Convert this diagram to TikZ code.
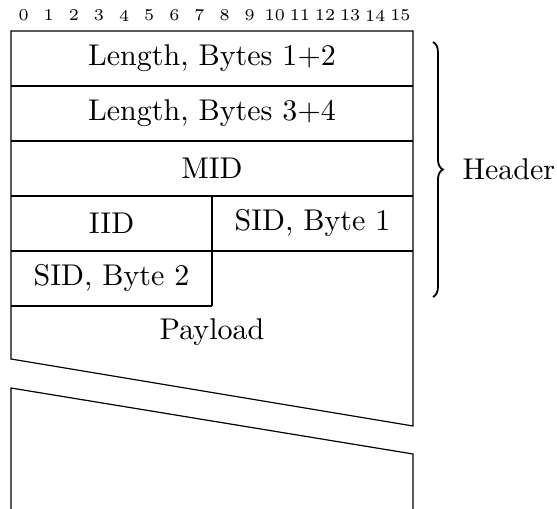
\documentclass[tikz,border=0pt]{standalone}
\usetikzlibrary{decorations.pathreplacing}
\begin{document}
\begin{tikzpicture}[x=0.3333pt,y=-0.3333pt,
  frame/.style={line width=0.4pt},
  field/.style={inner sep=0pt,anchor=center,font=\fontsize{10pt}{12pt}\selectfont},
  bitnum/.style={inner sep=0pt,anchor=center,font=\fontsize{5.5pt}{6pt}\selectfont},
  hdrbrace/.style={decorate,decoration={brace,amplitude=3.3pt},line width=0.6pt}]
\useasboundingbox (0,0) rectangle (557,509);
% bit numbers
\foreach \i in {0,...,15}{
  \node[bitnum] (b\i) at ({11+25.125*(\i+0.5)},15.5) {\i};
}
% corner coordinates
\coordinate (tl) at (11,31);
\coordinate (tr) at (413,31);
\coordinate (bl1) at (11,359);
\coordinate (br1) at (413,426);
\coordinate (bl2) at (11,388);
\coordinate (br2) at (413,454);
\coordinate (bl3) at (11,509);
\coordinate (br3) at (413,509);
% upper frame
\draw[frame] (bl1) -- (tl) -- (tr) -- (br1) -- cycle;
% lower frame
\draw[frame] (bl3) -- (bl2) -- (br2) -- (br3);
% rows
\foreach \y in {86,141,196,251}{
  \draw[frame] (11,\y) -- (413,\y);
}
\draw[frame] (11,306) -- (212,306);
\draw[frame] (212,196) -- (212,306);
% texts
\node[field] (l12) at (212,58.5) {Length, Bytes 1+2};
\node[field] (l34) at (212,113.5) {Length, Bytes 3+4};
\node[field] (mid) at (212,168.5) {MID};
\node[field] (iid) at (111.5,223.5) {IID};
\node[field] (sid1) at (312.5,223.5) {SID, Byte 1};
\node[field] (sid2) at (111.5,278.5) {SID, Byte 2};
\node[field] (pay) at (212,332) {Payload};
% brace
\coordinate (btop) at (433,42);
\coordinate (bbot) at (433,297);
\draw[hdrbrace] (btop) -- (bbot);
\node[field,anchor=west] (hdr) at (462,169.5) {Header};
\end{tikzpicture}
\end{document}
